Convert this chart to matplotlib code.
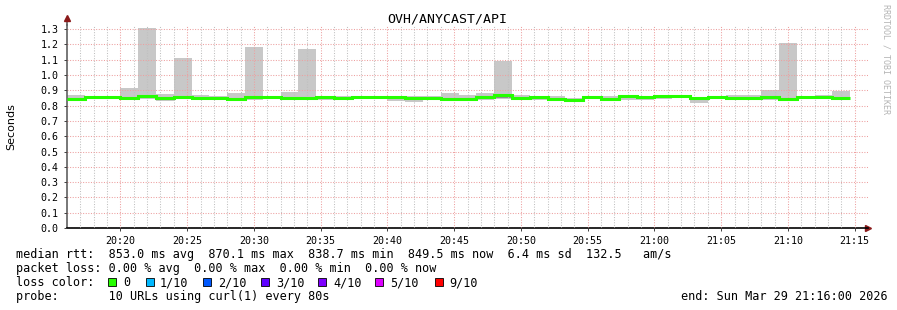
import numpy as np
import matplotlib.pyplot as plt
from matplotlib.patches import Rectangle

# time axis: minutes after 20:00, one step every 80 s starting at 20:16
start_min = 16.0
end_min = 76.0
step_min = 80 / 60

# median rtt per step (seconds)
median = [0.845, 0.858, 0.854, 0.850, 0.863, 0.848, 0.855, 0.850, 0.848, 0.841,
          0.857, 0.855, 0.849, 0.849, 0.855, 0.849, 0.853, 0.857, 0.858, 0.849,
          0.850, 0.845, 0.845, 0.855, 0.869, 0.849, 0.857, 0.843, 0.839, 0.858,
          0.845, 0.861, 0.853, 0.861, 0.861, 0.849, 0.853, 0.849, 0.849, 0.858,
          0.845, 0.853, 0.853, 0.8495]
# smoke: slowest and fastest ping per step
rtt_max = [0.869, 0.866, 0.862, 0.915, 1.307, 0.874, 1.111, 0.870, 0.862, 0.884,
           1.183, 0.862, 0.891, 1.170, 0.862, 0.860, 0.865, 0.862, 0.862, 0.862,
           0.866, 0.882, 0.870, 0.882, 1.090, 0.868, 0.865, 0.862, 0.852, 0.866,
           0.864, 0.866, 0.862, 0.866, 0.866, 0.858, 0.858, 0.870, 0.872, 0.902,
           1.209, 0.862, 0.870, 0.894]
rtt_min = [0.838, 0.842, 0.842, 0.836, 0.846, 0.832, 0.840, 0.842, 0.840, 0.836,
           0.838, 0.842, 0.840, 0.840, 0.834, 0.836, 0.842, 0.842, 0.830, 0.825,
           0.835, 0.838, 0.836, 0.834, 0.840, 0.840, 0.838, 0.832, 0.830, 0.840,
           0.836, 0.838, 0.834, 0.846, 0.848, 0.820, 0.845, 0.840, 0.838, 0.835,
           0.838, 0.842, 0.842, 0.838]
# denser inner smoke around the median
inner_hi = [0.852, 0.862, 0.858, 0.856, 0.868, 0.856, 0.862, 0.856, 0.852, 0.850,
            0.864, 0.858, 0.856, 0.856, 0.860, 0.856, 0.858, 0.860, 0.862, 0.856,
            0.856, 0.852, 0.852, 0.862, 0.872, 0.856, 0.860, 0.852, 0.846, 0.862,
            0.852, 0.864, 0.858, 0.864, 0.864, 0.856, 0.856, 0.856, 0.858, 0.866,
            0.850, 0.858, 0.858, 0.852]
inner_lo = [0.840, 0.848, 0.846, 0.842, 0.852, 0.840, 0.846, 0.845, 0.843, 0.838,
            0.846, 0.848, 0.843, 0.843, 0.840, 0.842, 0.846, 0.848, 0.840, 0.836,
            0.840, 0.840, 0.840, 0.842, 0.852, 0.843, 0.845, 0.838, 0.834, 0.848,
            0.840, 0.850, 0.842, 0.854, 0.854, 0.835, 0.848, 0.842, 0.840, 0.840,
            0.840, 0.846, 0.846, 0.840]

xtick_min = [20, 25, 30, 35, 40, 45, 50, 55, 60, 65, 70, 75]
xtick_labels = ["20:20", "20:25", "20:30", "20:35", "20:40", "20:45",
                "20:50", "20:55", "21:00", "21:05", "21:10", "21:15"]
yticks = [0.0, 0.1, 0.2, 0.3, 0.4, 0.5, 0.6, 0.7, 0.8, 0.9, 1.0, 1.1, 1.2, 1.3]

loss_labels = ["0", "1/10", "2/10", "3/10", "4/10", "5/10", "9/10"]
loss_colors = ["#26ff00", "#00b8ff", "#0059ff", "#5e00ff", "#7e00ff", "#dd00ff", "#ff0000"]

line1 = "median rtt:  853.0 ms avg  870.1 ms max  838.7 ms min  849.5 ms now  6.4 ms sd  132.5   am/s"
line2 = "packet loss: 0.00 % avg  0.00 % max  0.00 % min  0.00 % now"
line4 = "probe:       10 URLs using curl(1) every 80s"
end_text = "end: Sun Mar 29 21:16:00 2026"

W, H = 897, 310
mono = "DejaVu Sans Mono"
fig = plt.figure(figsize=(W / 100, H / 100), dpi=100)
fig.patch.set_facecolor("white")

# plot area in pixels: x 67..868, y(0.0)=228, y(1.33)=24.5
y_top = 1.33
px_per_unit = 153.0
top_px = 228 - y_top * px_per_unit
ax = fig.add_axes([67 / W, (H - 228) / H, (868 - 67) / W, (228 - top_px) / H])

edges = start_min + step_min * np.arange(len(median) + 1)
ax.stairs(rtt_max, edges, baseline=rtt_min, fill=True, color="#c8c8c8", zorder=1)
ax.stairs(inner_hi, edges, baseline=inner_lo, fill=True, color="#8c8c8c", zorder=2)
ax.stairs(median, edges, baseline=None, color=loss_colors[0], linewidth=2.2, zorder=3)

ax.set_xlim(start_min, end_min)
ax.set_ylim(0, y_top)

ax.set_xticks(xtick_min)
ax.set_xticklabels(xtick_labels, fontfamily=mono, fontsize=7.2)
ax.set_xticks(np.arange(17, 76, 1), minor=True)
ax.set_yticks(yticks)
ax.set_yticklabels([f"{v:.1f}" for v in yticks], fontfamily=mono, fontsize=7.2)
ax.tick_params(axis="both", which="major", length=2, width=0.7, color="#404040", pad=4)
ax.tick_params(axis="x", which="minor", length=0)

ax.grid(True, which="minor", axis="x", color="#c0c0c0", linestyle=(0, (1, 1.5)), linewidth=0.75, zorder=4)
ax.grid(True, which="major", axis="both", color="#eda0a0", linestyle=(0, (1, 1.5)), linewidth=0.75, zorder=4)
ax.set_axisbelow(False)

for s in ["top", "right"]:
    ax.spines[s].set_visible(False)
ax.spines["left"].set_color("#606060")
ax.spines["left"].set_linewidth(1.2)
ax.spines["bottom"].set_color("black")
ax.spines["bottom"].set_linewidth(1.2)

# axis arrows
ax.plot([0, 0], [1, 1.025], transform=ax.transAxes, color="#606060", lw=1.2, clip_on=False)
ax.plot([0], [1.03], transform=ax.transAxes, marker="^", color="#8b1a1a", markersize=4, clip_on=False)
ax.plot([1.0], [0], transform=ax.transAxes, marker=">", color="#8b1a1a", markersize=4, clip_on=False)

ax.set_ylabel("Seconds", fontsize=8, fontfamily="DejaVu Sans")
ax.yaxis.set_label_coords(-51 / 801, 0.5)
fig.text(447.5 / W, 1 - 19 / H, "OVH/ANYCAST/API", ha="center", va="center", fontfamily=mono, fontsize=9.5)
fig.text(886 / W, 1 - 4 / H, "RRDTOOL / TOBI OETIKER", rotation=270, ha="center", va="top",
         fontfamily=mono, fontsize=6, color="#b4b4b4")

def px(x, y):
    return x / W, 1 - y / H

fs = 8.5
fig.text(*px(16, 254.3), line1, va="center", fontfamily=mono, fontsize=fs)
fig.text(*px(16, 268.3), line2, va="center", fontfamily=mono, fontsize=fs)
fig.text(*px(16, 282.5), "loss color:", va="center", fontfamily=mono, fontsize=fs)
sq_x = [108, 146, 203, 261, 318, 375, 435]
lab_x = [123, 160, 218, 276, 333, 390, 449]
for sx, lx, lab, col in zip(sq_x, lab_x, loss_labels, loss_colors):
    fig.patches.append(Rectangle(px(sx, 286), 8 / W, 8 / H, transform=fig.transFigure,
                                 facecolor=col, edgecolor="black", linewidth=0.6))
    fig.text(*px(lx, 282.5), lab, va="center", fontfamily=mono, fontsize=fs)
fig.text(*px(16, 296.5), line4, va="center", fontfamily=mono, fontsize=fs)
fig.text(*px(888, 296.5), end_text, va="center", ha="right", fontfamily=mono, fontsize=fs)

fig.savefig("out.png", dpi=100, facecolor="white")
